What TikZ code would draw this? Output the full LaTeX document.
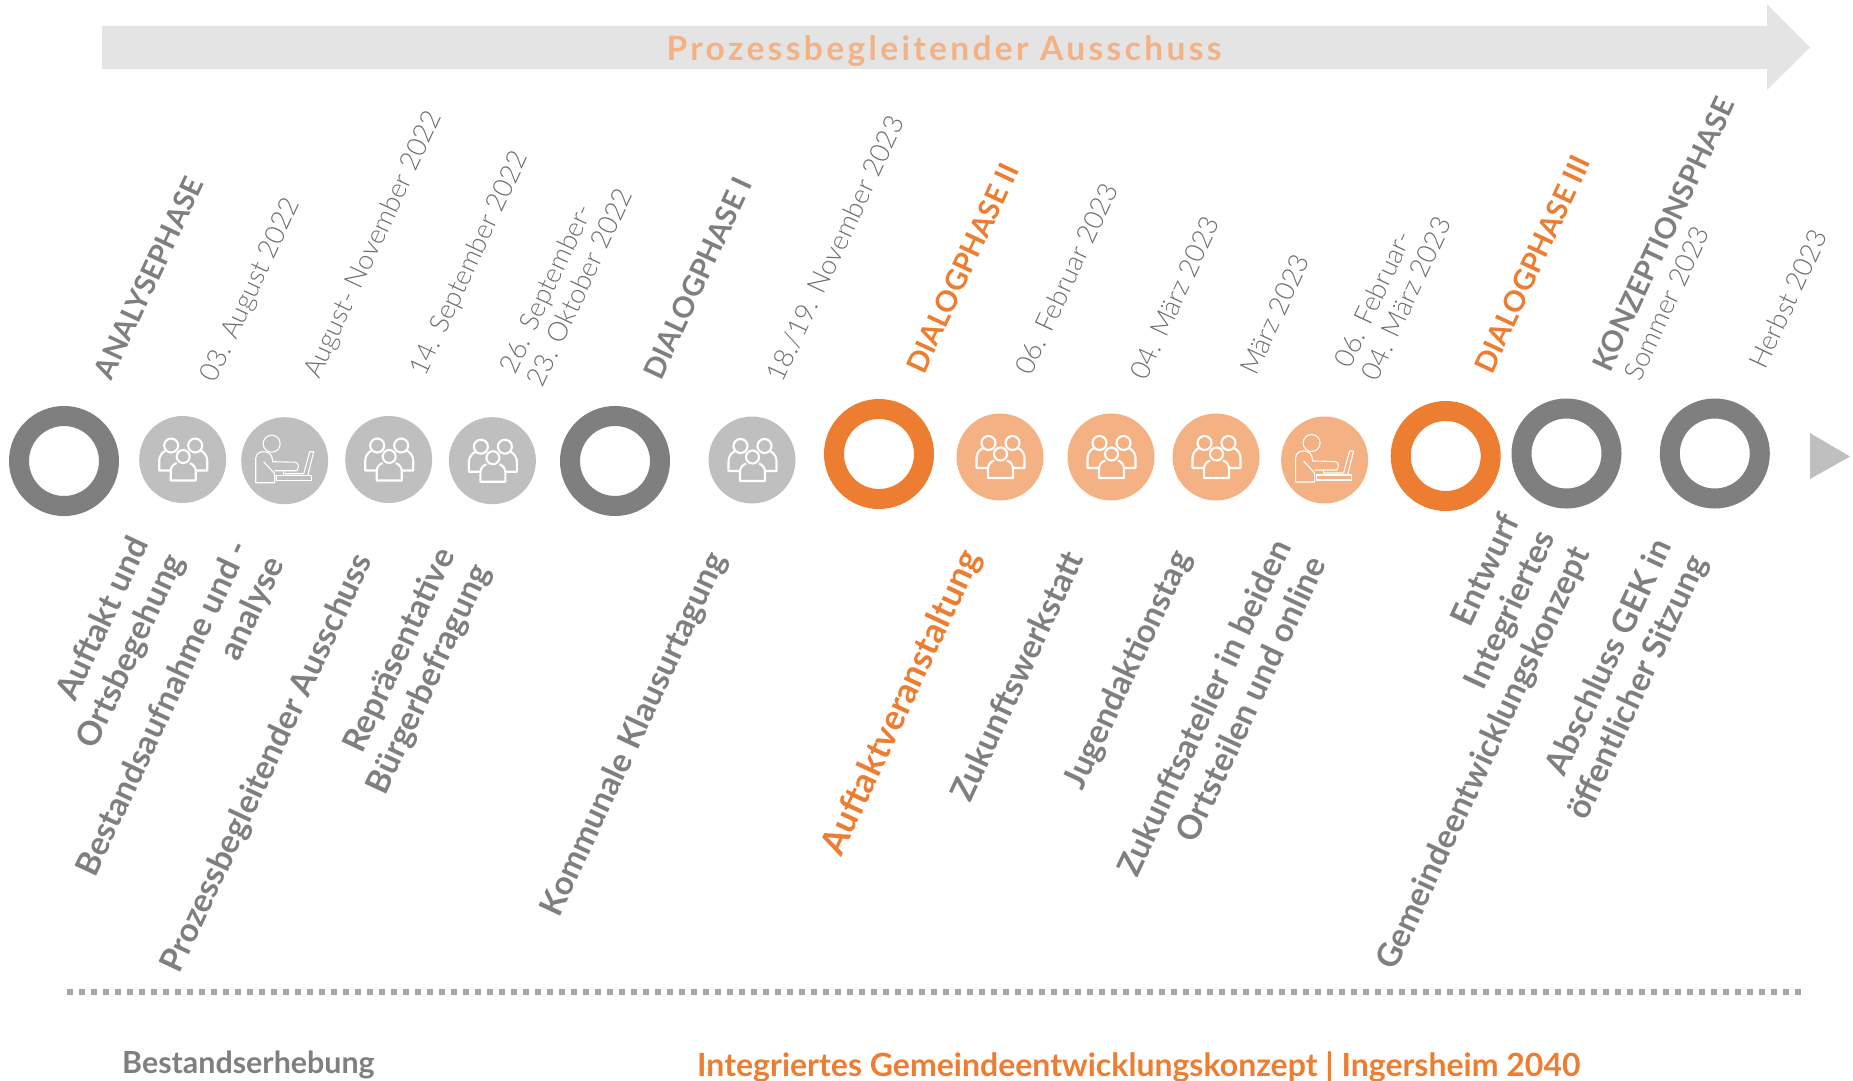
\documentclass[tikz,border=0pt]{standalone}
\usepackage{fontspec}
\setmainfont{Lato}
\newfontfamily\datefont{Lato Light}
\definecolor{ringgray}{HTML}{7F7F7F}
\definecolor{softgray}{HTML}{BFBFBF}
\definecolor{dotgray}{HTML}{A6A6A6}
\definecolor{bargray}{HTML}{E4E4E4}
\definecolor{dategray}{HTML}{6E6E6E}
\definecolor{ringorange}{HTML}{ED7D31}
\definecolor{softorange}{HTML}{F4B183}
\tikzset{
  ring/.style={circle,draw=#1,line width=20pt,minimum size=90pt,inner sep=0pt},
  dot/.style={circle,fill=#1,minimum size=87pt,inner sep=0pt},
  iconline/.style={draw=white,line width=#1,line join=round},
  phase/.style={rotate=65,anchor=west,text=#1,font=\fontsize{29}{32}\selectfont\bfseries},
  datum/.style={rotate=65,anchor=west,align=left,text=dategray,font=\fontsize{27}{30}\selectfont\datefont},
  task/.style={rotate=65,anchor=east,align=right,text=#1,font=\fontsize{33}{38.5}\selectfont\bfseries},
  footer/.style={anchor=west,text=#1,inner sep=0pt},
  pics/people/.style={code={
    \draw[iconline=2.1] (-11.5,-14) circle (7);
    \draw[iconline=2.1] (12.5,-14) circle (7);
    \draw[iconline=2.1] (0.5,-3) circle (6.5);
    \draw[iconline=2.1] (-6,3.5) .. controls (-10,5) and (-12,8) .. (-12,12) -- (-12,21) -- (13,21) -- (13,12) .. controls (13,8) and (11,5) .. (7,3.5);
    \draw[iconline=2.1] (-17,-9) .. controls (-21,-7) and (-23.5,-3) .. (-23.5,1) -- (-23.5,11) -- (-12,11);
    \draw[iconline=2.1] (18,-9) .. controls (22,-7) and (24.5,-3) .. (24.5,1) -- (24.5,11) -- (13,11);
  }},
  pics/worker/.style={code={
    \draw[iconline=1.1] (-13,-17) circle (8.5);
    \draw[iconline=1.1] (-21,1) -- (-10,13) -- (-10,22) -- (-29,22) -- (-29,-2) .. controls (-29,-7) and (-25,-9) .. (-21,-9) .. controls (-16,-9) and (-12,-6) .. (-12,1) -- (10,1.5) .. controls (14,1.5) and (15,7) .. (12,10) -- (-10,10);
    \draw[iconline=1.1] (-8,15) rectangle (27,20);
    \draw[iconline=1.1] (-1,10) -- (-1,15);
    \draw[iconline=1.1] (-1,13) -- (19,13) -- (25,-9) -- (29,-9) -- (23,15);
  }}
}
\begin{document}
\begin{tikzpicture}[x=1pt,y=-1pt]
\useasboundingbox (0,0) rectangle (1853,1081);
% arrow on top
\fill[bargray] (102,26) -- (1767,26) -- (1767,4) -- (1810,47.5) -- (1767,90) -- (1767,69) -- (102,69) -- cycle;
\node (ausschuss) at (944,51) [text=softorange,font=\fontsize{33.5}{35}\selectfont\bfseries,inner sep=0pt] {\addfontfeature{LetterSpace=10}Prozessbegleitender Ausschuss};
% time line
\node[ring=ringgray] (auftakt) at (64,461) {};
\node[dot=softgray] (begehung) at (182.7,459.5) {};
\node[dot=softgray] (aufnahme) at (284.7,460.7) {};
\node[dot=softgray] (ausschusstermin) at (388.7,459.5) {};
\node[dot=softgray] (befragung) at (492.4,460.7) {};
\node[ring=ringgray] (dialogeins) at (615,461) {};
\node[dot=softgray] (klausur) at (752,460) {};
\node[ring=ringorange] (dialogzwei) at (879,454) {};
\node[dot=softorange] (werkstatt) at (1000,457) {};
\node[dot=softorange] (jugend) at (1111,457) {};
\node[dot=softorange] (atelier) at (1216,457) {};
\node[dot=softorange] (online) at (1324.6,460) {};
\node[ring=ringorange] (dialogdrei) at (1445.7,456) {};
\node[ring=ringgray] (entwurf) at (1566.5,453.5) {};
\node[ring=ringgray] (abschluss) at (1714.8,453.5) {};
\fill[softgray] (1810,433) -- (1850,456.5) -- (1810,479) -- cycle;
% icons
\pic at (begehung) {people};
\pic at (aufnahme) {worker};
\pic at (ausschusstermin) {people};
\pic at (befragung) {people};
\pic at (klausur) {people};
\pic at (werkstatt) {people};
\pic at (jugend) {people};
\pic at (atelier) {people};
\pic at (online) {worker};
% above the time line
\node[phase=ringgray] (analyse) at (101,380) {ANALYSEPHASE};
\node[datum] (datea) at (208,384) {03. August 2022};
\node[datum] (dateb) at (311,380) {August- November 2022};
\node[datum] (datec) at (417,378) {14. September 2022};
\node[datum] (dated) at (519,381) {26. September-\\23. Oktober 2022};
\node[phase=ringgray] (dialogi) at (650,380) {DIALOGPHASE I};
\node[datum] (datee) at (773,383) {18./19. November 2023};
\node[phase=ringorange] (dialogii) at (913,374) {DIALOGPHASE II};
\node[datum] (datef) at (1021,376) {06. Februar 2023};
\node[datum] (dateg) at (1136,381) {04. März 2023};
\node[datum] (dateh) at (1246,376) {März 2023};
\node[datum] (datei) at (1354,375) {06. Februar-\\04. März 2023};
\node[phase=ringorange] (dialogiii) at (1481,374) {DIALOGPHASE III};
\node[phase=ringgray] (konzeption) at (1599,372) {KONZEPTIONSPHASE};
\node[datum] (datej) at (1630,382) {Sommer 2023};
\node[datum] (datek) at (1755,370) {Herbst 2023};
% below the time line
\node[task=ringgray] (taska) at (160,545) {Auftakt und\\Ortsbegehung};
\node[task=ringgray] (taskb) at (260,548) {Bestandsaufnahme und -\\analyse};
\node[task=ringgray] (taskc) at (366,553) {Prozessbegleitender Ausschuss};
\node[task=ringgray] (taskd) at (466,556) {Repräsentative\\Bürgerbefragung};
\node[task=ringgray] (taske) at (720,552) {Kommunale Klausurtagung};
\node[task=ringorange,font=\fontsize{35}{38.5}\selectfont\bfseries] (taskf) at (974,550) {Auftaktveranstaltung};
\node[task=ringgray] (taskg) at (1075,550) {Zukunftswerkstatt};
\node[task=ringgray] (taskh) at (1185,550) {Jugendaktionstag};
\node[task=ringgray] (taski) at (1300,547) {Zukunftsatelier in beiden\\Ortsteilen und online};
\node[task=ringgray] (taskj) at (1549,530) {Entwurf\\Integriertes\\Gemeindeentwicklungskonzept};
\node[task=ringgray] (taskk) at (1683,547) {Abschluss GEK in\\öffentlicher Sitzung};
% footer
\draw[dotgray,line width=6pt,dash pattern=on 6pt off 6pt] (67,991.7) -- (1802,991.7);
\node[footer=ringgray,font=\fontsize{30.4}{32}\selectfont\bfseries] (bestand) at (122,1065) {Bestandserhebung};
\node[footer=ringorange,font=\fontsize{32}{34}\selectfont\bfseries] (konzept) at (697,1067) {Integriertes Gemeindeentwicklungskonzept | Ingersheim 2040};
\end{tikzpicture}
\end{document}
